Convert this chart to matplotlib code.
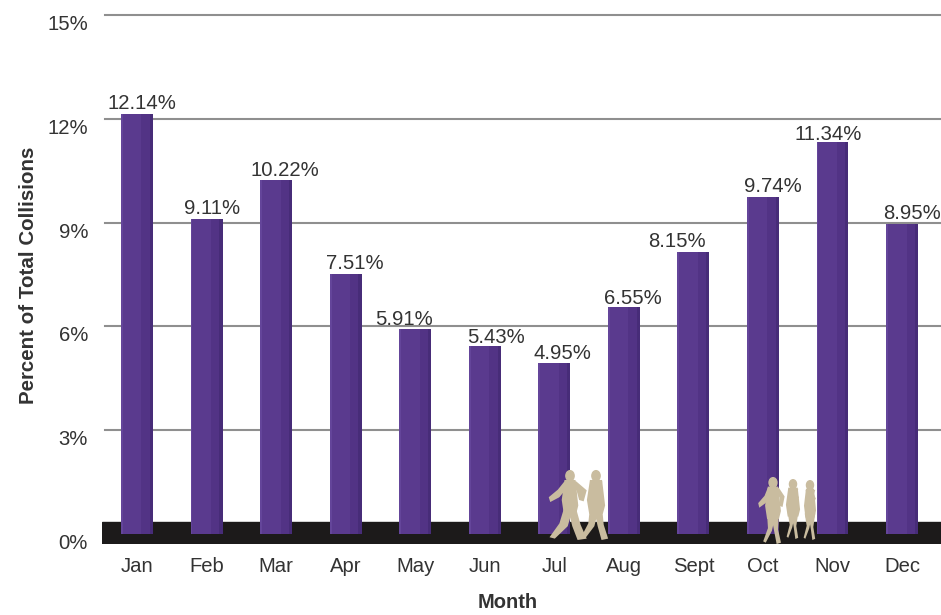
import matplotlib
matplotlib.use("Agg")
import matplotlib.pyplot as plt
from matplotlib.patches import Ellipse, Polygon
from matplotlib.transforms import Affine2D

plt.rcParams['font.family'] = ['Liberation Sans', 'DejaVu Sans']

months = ['Jan', 'Feb', 'Mar', 'Apr', 'May', 'Jun', 'Jul', 'Aug', 'Sept', 'Oct', 'Nov', 'Dec']
percent = [12.14, 9.11, 10.22, 7.51, 5.91, 5.43, 4.95, 6.55, 8.15, 9.74, 11.34, 8.95]
y_ticks = [0, 3, 6, 9, 12, 15]
y_tick_labels = ['0%', '3%', '6%', '9%', '12%', '15%']

# shift of each value label away from its bar top, in pixels
label_shift = [5, 6, 9, 9, -11, 11, 8, 9, -16, 10, -4, 10]
label_lift = [10, 10, 10, 11, 10, 8, 9, 9, 10, 10, 7, 11]

W, H = 941, 615
text_col = '#333333'
fig = plt.figure(figsize=(W / 100, H / 100), dpi=100)
ax = fig.add_axes([102 / W, (H - 544) / H, (W - 102) / W, 529 / H])
ax.set_xlim(-0.503, 11.56)
ax.set_ylim(-0.296, 15)

for t in y_ticks[1:]:
    ax.plot([-0.46, 11.56], [t, t], color='#8f8f8f', lw=1.5, zorder=1, clip_on=False)

# black ground strip
ax.axhspan(-0.296, 0.33, color='#1c1a1a', zorder=2)

bars = ax.bar(range(12), percent, width=0.46, color='#5a3a8e', zorder=3)
# soft shading across every bar
for b in bars:
    w = b.get_width()
    ax.bar(b.get_x() + w * 0.82, b.get_height(), width=w * 0.36, color='#523385', zorder=3)
    ax.bar(b.get_x() + w * 0.95, b.get_height(), width=w * 0.10, color='#472c78', zorder=3)
    ax.bar(b.get_x() + w * 0.03, b.get_height(), width=w * 0.06, color='#64459a', zorder=3)

for i, v in enumerate(percent):
    ax.annotate('%.2f%%' % v, (i, v), xytext=(label_shift[i], label_lift[i]), textcoords='offset pixels',
                ha='center', va='center', fontsize=14.6, color=text_col, zorder=5,
                annotation_clip=False)

ax.set_xticks(range(12), months)
ax.set_yticks(y_ticks, y_tick_labels)
ax.tick_params(axis='both', length=0, labelsize=14.6, labelcolor=text_col)
ax.tick_params(axis='x', pad=9)
ax.tick_params(axis='y', pad=10)
for lab in ax.get_yticklabels():
    lab.set_va('top')

ax.set_xlabel('Month', fontsize=14.5, fontweight='bold', color=text_col)
ax.set_ylabel('Percent of Total Collisions', fontsize=14.8, fontweight='bold', color=text_col)
ax.xaxis.set_label_coords(0.483, -0.11)
ax.yaxis.set_label_coords(-0.088, 0.507)
ax.xaxis.label.set_va('center')
ax.yaxis.label.set_va('center')

for s in ax.spines.values():
    s.set_visible(False)
ax.patch.set_alpha(0)

# pedestrian silhouettes, drawn in image pixels
px = Affine2D().scale(1, -1).translate(0, H)
sand = '#c9bc9f'


def person(cx, top, bottom, stride=1.0, arm=1.0, girth=1.0):
    h = bottom - top
    fig.add_artist(Ellipse((cx, top + 0.07 * h), 0.12 * h, 0.15 * h, color=sand, transform=px, zorder=6))
    body = [(-0.08 * girth, 0.13), (0.08 * girth, 0.13), (0.12 * girth, 0.5), (0.09 * girth, 0.62),
            (-0.09 * girth, 0.62), (-0.12 * girth, 0.42)]
    left = [(-0.09, 0.55), (0.04, 0.55), (-0.03 * stride, 0.8), (-0.2 * stride, 0.98), (-0.27 * stride, 0.96),
            (-0.14 * stride, 0.76)]
    right = [(-0.03, 0.55), (0.09, 0.55), (0.14 * stride, 0.78), (0.22 * stride, 0.98), (0.1 * stride, 1.0),
             (0.03 * stride, 0.8)]
    sleeve = [(-0.08, 0.15), (-0.02, 0.22), (-0.14 * arm, 0.38), (-0.26 * arm, 0.45), (-0.28 * arm, 0.38),
              (-0.16 * arm, 0.27)]
    sleeve2 = [(0.03, 0.15), (0.09, 0.15), (0.22 * arm, 0.28), (0.18 * arm, 0.44), (0.12 * arm, 0.42), (0.1, 0.3)]
    for shape in (body, left, right, sleeve, sleeve2):
        pts = [(cx + a * h, top + b * h) for a, b in shape]
        fig.add_artist(Polygon(pts, closed=True, color=sand, lw=0, transform=px, zorder=6))


person(570, 471, 540, stride=1.1, arm=1.1)
person(596, 471, 540, stride=0.8, arm=0.35, girth=1.1)
person(773, 478, 544, stride=0.55, arm=0.8)
person(793, 480, 539, stride=0.4, arm=0.2, girth=1.0)
person(810, 481, 540, stride=0.4, arm=0.2, girth=0.85)

fig.savefig('out.png', dpi=100)
